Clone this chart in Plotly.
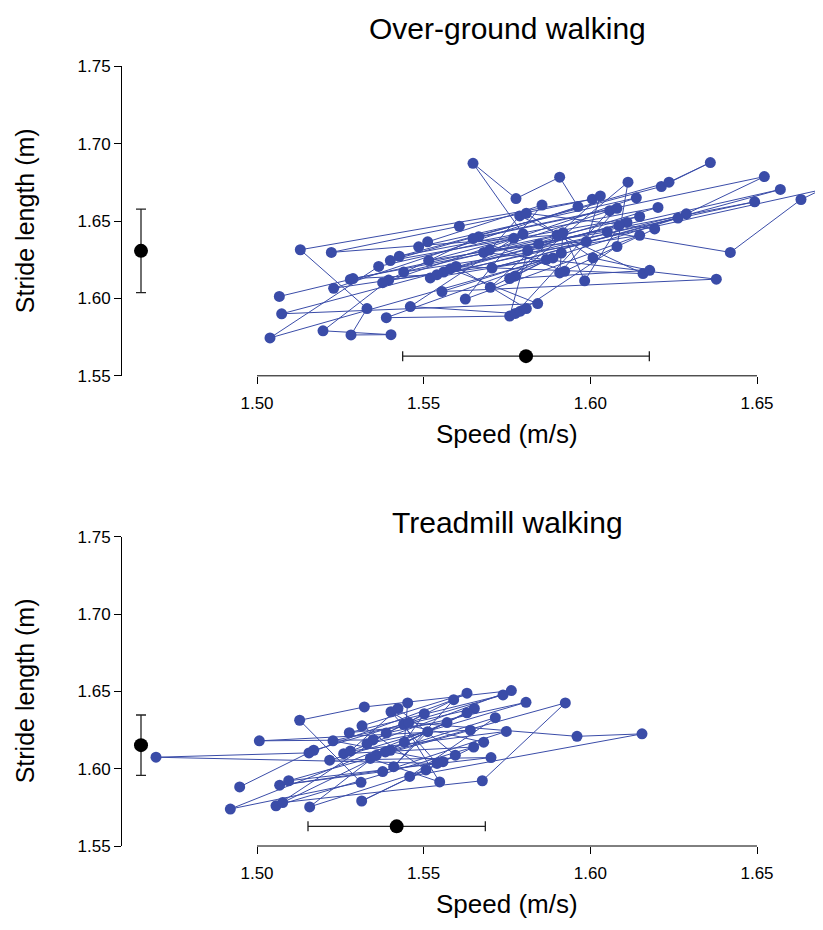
import plotly.graph_objects as go

################################## Data ##################################
# over-ground walking, one value per stride (in walking order)
og_speed = [1.5067, 1.5280, 1.5900, 1.5223, 1.5607, 1.6006, 1.5130, 1.5330, 1.5282, 1.5402,
            1.5198, 1.5395, 1.5868, 1.5039, 1.5365, 1.5798, 1.5648, 1.5777, 1.5908, 1.5963,
            1.5230, 1.5560, 1.6110, 1.5074, 1.5842, 1.5580, 1.6203, 1.5427, 1.6213, 1.6360,
            1.6236, 1.5400, 1.6148, 1.5440, 1.6148, 1.5625, 1.5855, 1.5512, 1.5485, 1.6138,
            1.5377, 1.5665, 1.6522, 1.6288, 1.5520, 1.5888, 1.5388, 1.5758, 1.5812, 1.6493,
            1.5288, 1.5540, 1.6693, 1.6632, 1.6420, 1.6051, 1.5515, 1.5770, 1.5460, 1.5775,
            1.6058, 1.5680, 1.6378, 1.5555, 1.6263, 1.5705, 1.6570, 1.5845, 1.5700, 1.5913,
            1.5775, 1.6113, 1.6080, 1.5790, 1.5808, 1.5597, 1.6158, 1.5788, 1.5698, 1.5988,
            1.6030, 1.5758, 1.6178, 1.6008, 1.5808, 1.6193, 1.5923, 1.5648, 1.6080, 1.5908,
            1.5918, 1.5983, 1.6086]
og_stride = [1.6013, 1.6123, 1.6410, 1.6298, 1.6467, 1.6642, 1.6315, 1.5935, 1.5764, 1.5766,
             1.5791, 1.6119, 1.6252, 1.5745, 1.6207, 1.6418, 1.6874, 1.6646, 1.6784, 1.6594,
             1.6066, 1.6171, 1.6492, 1.5901, 1.5967, 1.6192, 1.6589, 1.6273, 1.6724, 1.6879,
             1.6752, 1.6245, 1.6530, 1.6171, 1.6408, 1.5996, 1.6604, 1.6366, 1.6334, 1.6651,
             1.6102, 1.6399, 1.6788, 1.6547, 1.6133, 1.6262, 1.5876, 1.5886, 1.6309, 1.6625,
             1.6129, 1.6154, 1.6703, 1.6640, 1.6298, 1.6431, 1.6245, 1.6389, 1.5948, 1.5903,
             1.6568, 1.6298, 1.6125, 1.6045, 1.6520, 1.6197, 1.6705, 1.6351, 1.6072, 1.6294,
             1.6146, 1.6752, 1.6336, 1.5918, 1.5935, 1.6207, 1.6161, 1.6534, 1.6313, 1.6368,
             1.6663, 1.6129, 1.6182, 1.6262, 1.6551, 1.6450, 1.6176, 1.6387, 1.6583, 1.6165,
             1.6425, 1.6114, 1.6471]

# treadmill walking
tm_speed = [1.4948, 1.5170, 1.5738, 1.5277, 1.5570, 1.4920, 1.5312, 1.5128, 1.5322, 1.5763,
            1.5260, 1.5650, 1.5057, 1.5388, 1.5807, 1.5218, 1.5702, 1.5095, 1.5640, 1.5007,
            1.5348, 1.5630, 1.5315, 1.5507, 1.5158, 1.5358, 1.5925, 1.5676, 1.5077, 1.5400,
            1.5652, 1.5228, 1.5558, 1.5068, 1.5377, 1.5748, 1.5280, 1.5423, 1.5595, 1.5314,
            1.5680, 1.5440, 1.5548, 1.5340, 1.5630, 1.5385, 1.5715, 1.5458, 1.6155, 1.5960,
            1.5455, 1.5402, 1.5540, 1.4697, 1.5156, 1.5590, 1.5410, 1.5512, 1.5330, 1.5502,
            1.5442, 1.5452]
tm_stride = [1.5882, 1.6119, 1.6477, 1.6233, 1.6298, 1.5739, 1.5912, 1.6313, 1.6399, 1.6505,
             1.6097, 1.6140, 1.5760, 1.6230, 1.6429, 1.6055, 1.6072, 1.5922, 1.6249, 1.6180,
             1.6186, 1.6488, 1.6277, 1.5992, 1.5753, 1.6087, 1.6425, 1.5922, 1.5781, 1.6119,
             1.6389, 1.6180, 1.6045, 1.5893, 1.5981, 1.6241, 1.6114, 1.6389, 1.6087, 1.5791,
             1.6171, 1.6287, 1.5914, 1.6066, 1.6361, 1.6108, 1.6330, 1.5950, 1.6225, 1.6209,
             1.6298, 1.6368, 1.6034, 1.6074, 1.6102, 1.6446, 1.6013, 1.6239, 1.6161, 1.6355,
             1.6171, 1.6425]

# mean +- sd
og_speed_mean, og_speed_sd = 1.5807, 0.0370
og_stride_mean, og_stride_sd = 1.6308, 0.0270
tm_speed_mean, tm_speed_sd = 1.5419, 0.0266
tm_stride_mean, tm_stride_sd = 1.6152, 0.0195

titles = ["Over-ground walking", "Treadmill walking"]
x_ticks = [1.50, 1.55, 1.60, 1.65]
y_ticks = [1.55, 1.60, 1.65, 1.70, 1.75]
############################################################################

BLUE = "#3a4ca8"
FONT = "Liberation Sans, Arial, Helvetica, sans-serif"
W, H = 823, 930
L = 114
X_RANGE = [1.4595, 1.6722]
Y_RANGE = [1.55, 1.75]
MEAN_Y_POS = 1.5627   # where the speed mean is drawn
MEAN_X_POS = 1.4652   # where the stride mean is drawn

# plot areas in pixels from the top of the figure: (top, bottom)
panels_px = [(50.5, 366.3), (530.5, 846.3)]
title_gap = [38.5, 14.5]
domains = [[(H - b) / H, (H - t) / H] for t, b in panels_px]

fig = go.Figure()

panels = [
    (og_speed, og_stride, og_speed_mean, og_speed_sd, og_stride_mean, og_stride_sd),
    (tm_speed, tm_stride, tm_speed_mean, tm_speed_sd, tm_stride_mean, tm_stride_sd),
]

for i, (sp, st, sm, ssd, lm, lsd) in enumerate(panels):
    xa = "x" if i == 0 else "x2"
    ya = "y" if i == 0 else "y2"
    fig.add_trace(go.Scatter(x=sp, y=st, mode="lines+markers", xaxis=xa, yaxis=ya,
                             line=dict(color=BLUE, width=1),
                             marker=dict(color=BLUE, size=11)))
    fig.add_trace(go.Scatter(x=[sm], y=[MEAN_Y_POS], mode="markers", xaxis=xa, yaxis=ya,
                             marker=dict(color="black", size=14),
                             error_x=dict(type="data", array=[ssd], color="#222222",
                                          thickness=1.3, width=5)))
    fig.add_trace(go.Scatter(x=[MEAN_X_POS], y=[lm], mode="markers", xaxis=xa, yaxis=ya,
                             marker=dict(color="black", size=14),
                             error_y=dict(type="data", array=[lsd], color="#222222",
                                          thickness=1.3, width=5)))

    # detached x axis line from 1.50 to 1.65
    fig.add_shape(type="line", xref=xa, yref=ya + " domain", x0=x_ticks[0], x1=x_ticks[-1],
                  y0=0, y1=0, line=dict(color="black", width=1))

    t, b = panels_px[i]
    fig.add_annotation(text=titles[i], xref=xa, yref="paper", x=1.575,
                       y=(H - (t - title_gap[i])) / H,
                       showarrow=False, font=dict(size=30, color="black", family=FONT),
                       xanchor="center", yanchor="middle")
    fig.add_annotation(text="Speed (m/s)", xref=xa, yref="paper", x=1.575,
                       y=(H - (b + 59)) / H,
                       showarrow=False, font=dict(size=26, color="black", family=FONT),
                       xanchor="center", yanchor="middle")
    fig.add_annotation(text="Stride length (m)", xref="paper", yref="paper",
                       x=(17 - L) / (W - L), y=(H - (t + b) / 2) / H, textangle=-90,
                       showarrow=False, font=dict(size=25, color="black", family=FONT),
                       xanchor="center", yanchor="middle")

axis_common = dict(showgrid=False, zeroline=False, ticks="outside", ticklen=7,
                   tickwidth=1, tickcolor="black", tickformat=".2f",
                   tickfont=dict(size=17, color="black", family=FONT))

for i in range(2):
    sfx = "" if i == 0 else "2"
    fig.update_layout(**{
        "xaxis" + sfx: dict(axis_common, range=X_RANGE, tickvals=x_ticks, showline=False,
                            anchor="y" + sfx, domain=[0, 1], ticklabelstandoff=5),
        "yaxis" + sfx: dict(axis_common, range=Y_RANGE, tickvals=y_ticks, showline=True,
                            linecolor="black", linewidth=1, anchor="x" + sfx,
                            domain=domains[i]),
    })

fig.update_layout(width=W, height=H, showlegend=False,
                  margin=dict(l=L, r=0, t=0, b=0),
                  plot_bgcolor="white", paper_bgcolor="white",
                  font=dict(family=FONT, color="black"))

fig.write_html("out.html")
